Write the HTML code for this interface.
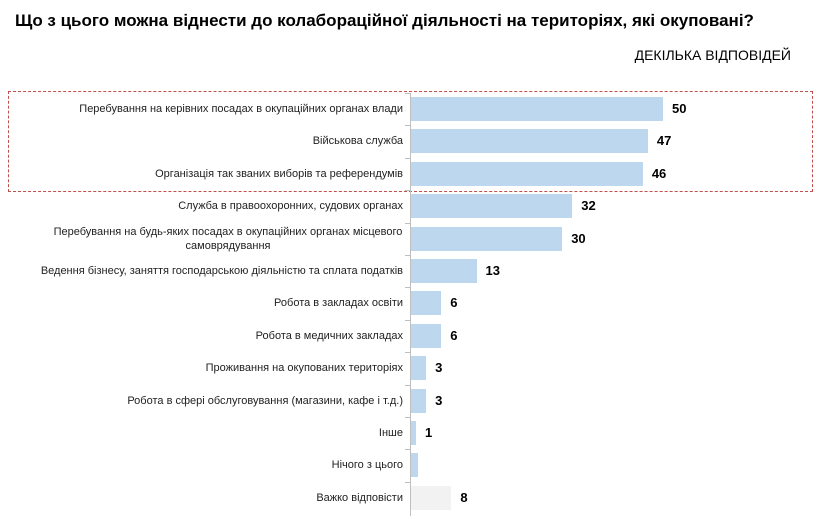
<!DOCTYPE html>
<html><head><meta charset="utf-8"><style>
body{margin:0;background:#fff;width:821px;height:519px;overflow:hidden;font-family:"Liberation Sans",Arial,sans-serif;position:relative}
.t{position:absolute;left:15px;top:11px;font-size:17px;font-weight:bold;color:#000}
.s{position:absolute;right:30px;top:47px;font-size:14px;color:#000}
.l{position:absolute;right:418px;width:390px;text-align:right;font-size:11px;color:#222;line-height:14px;display:flex;align-items:center;justify-content:flex-end;height:24px}
.b{position:absolute;left:411px;height:24px;background:#bdd7ee}
.v{position:absolute;font-size:13px;font-weight:bold;height:24px;line-height:24px}
.ax{position:absolute;left:410px;top:93px;width:1px;height:423px;background:#bfbfbf}
.tk{position:absolute;left:405px;width:5px;height:1px;background:#bfbfbf}
.box{position:absolute;left:8px;top:91px;width:803px;height:99px;border:1px dashed #c0504d}
</style></head><body>
<div class="t">Що з цього можна віднести до колабораційної діяльності на територіях, які окуповані?</div>
<div class="s">ДЕКІЛЬКА ВІДПОВІДЕЙ</div>
<div class="box"></div>
<div class="ax"></div>
<div id="c"></div>
<script>
var d=[["Перебування на керівних посадах в окупаційних органах влади",50,"50"],["Військова служба",47,"47"],["Організація так званих виборів та референдумів",46,"46"],["Служба в правоохоронних, судових органах",32,"32"],["Перебування на будь-яких посадах в окупаційних органах місцевого самоврядування",30,"30"],["Ведення бізнесу, заняття господарською діяльністю та сплата податків",13,"13"],["Робота в закладах освіти",6,"6"],["Робота в медичних закладах",6,"6"],["Проживання на окупованих територіях",3,"3"],["Робота в сфері обслуговування (магазини, кафе і т.д.)",3,"3"],["Інше",1,"1"],["Нічого з цього",1.4,""],["Важко відповісти",8,"8"]];
var h="";
d.forEach(function(r,i){var y=97+i*32.4;var w=r[1]*5.04;
h+='<div class="l" style="top:'+y+'px">'+(i==4?'<span style="display:block;text-align:center;width:350px;white-space:nowrap">Перебування на будь-яких посадах в окупаційних органах місцевого<br>самоврядування</span>':r[0])+'</div>';
h+='<div class="b" style="top:'+y+'px;width:'+w+'px'+(i==12?';background:#f2f2f2':'')+'"></div>';
h+='<div class="v" style="top:'+y+'px;left:'+(411+w+9)+'px">'+r[2]+'</div>';
h+='<div class="tk" style="top:'+(y-4)+'px"></div>';});
document.getElementById('c').innerHTML=h;
</script>
</body></html>
